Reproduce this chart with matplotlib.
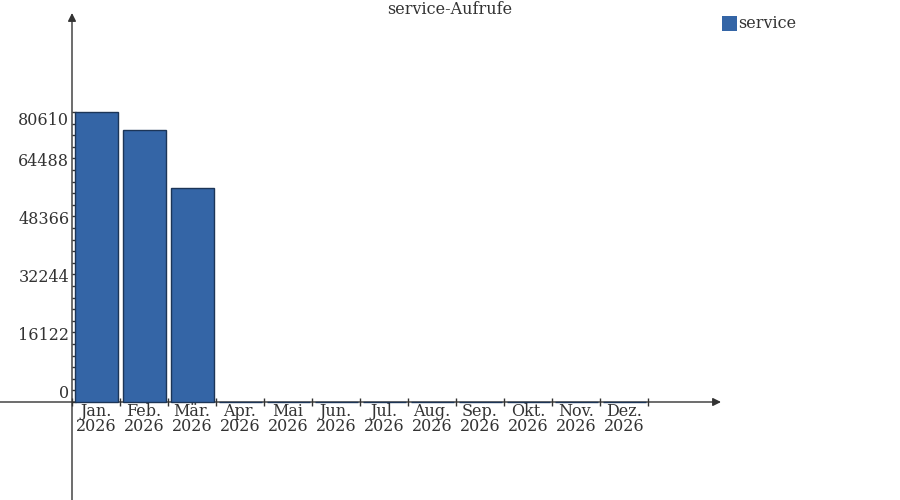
import matplotlib
matplotlib.use("Agg")
import matplotlib.pyplot as plt
import numpy as np

months = ["Jan.", "Feb.", "Mär.", "Apr.", "Mai", "Jun.", "Jul.", "Aug.", "Sep.", "Okt.", "Nov.", "Dez."]
year = "2026"
values = [80610, 75600, 59500, 0, 0, 0, 0, 0, 0, 0, 0, 0]
yticks = [0, 16122, 32244, 48366, 64488, 80610]
series_name = "service"
title = "service-Aufrufe"

bar_color = "#3465a6"
edge_color = "#1c3557"
text_color = "#333333"

plt.rcParams['font.family'] = ['DejaVu Serif']

fig = plt.figure(figsize=(9, 5), dpi=100)
ax = fig.add_axes([0, 0, 1, 1])

# pixel mapping: x px = 96 + 48*i ; y px = 402 - v*58/16122
ppu = 58 / 16122.0
def xd(px):
    return (px - 96) / 48.0
def yd(py):
    return (402 - py) / ppu

ax.set_xlim(xd(0), xd(900))
ax.set_ylim(yd(500), yd(0))

x = np.arange(len(months))
ax.bar(x, values, width=43/48, color=bar_color, edgecolor=edge_color, linewidth=1, zorder=3)

for s in ax.spines.values():
    s.set_visible(False)
ax.spines['left'].set_position(('data', xd(72)))
ax.spines['bottom'].set_position(('data', 0))

# axes with arrows
ax.annotate('', xy=(xd(72), yd(13)), xytext=(xd(72), yd(500)),
            arrowprops=dict(arrowstyle='-|>', color=text_color, lw=1, mutation_scale=12, shrinkA=0, shrinkB=0), zorder=2)
ax.annotate('', xy=(xd(721), 0), xytext=(xd(0), 0),
            arrowprops=dict(arrowstyle='-|>', color=text_color, lw=1, mutation_scale=12, shrinkA=0, shrinkB=0), zorder=2)

# y ticks
ax.set_yticks(yticks)
ax.set_yticklabels([str(v) for v in yticks])
ax.set_yticks(np.arange(0, 80610 + 1, 16122 / 5), minor=True)
ax.tick_params(axis='y', which='major', direction='in', length=3, width=1, color=text_color,
               labelsize=11.5, labelcolor=text_color, pad=2, left=True)
ax.tick_params(axis='y', which='minor', direction='in', length=3, width=1, color=text_color)

# x ticks
ax.set_xticks(x)
ax.set_xticklabels([m + "\n" + year for m in months], linespacing=0.78)
ax.tick_params(axis='x', which='major', length=0, labelsize=11.5, labelcolor=text_color, pad=1)
ax.set_xticks(np.arange(-0.5, 12, 1.0), minor=True)
ax.tick_params(axis='x', which='minor', direction='inout', length=6, width=1, color=text_color)

majors = ax.yaxis.get_major_ticks()
for t in majors:
    t.label1.set_verticalalignment('bottom')
majors[-1].label1.set_verticalalignment('top')

ax.text(0.5, 1 - 1/500, title, transform=ax.transAxes, ha='center', va='top',
        fontsize=11.5, color=text_color)

# legend
from matplotlib.patches import Rectangle
ax.add_patch(Rectangle((722/900, 1 - 31/500), 15/900, 15/500, transform=ax.transAxes,
                       facecolor=bar_color, edgecolor='none'))
ax.text(738/900, 1 - 23/500, series_name, transform=ax.transAxes, ha='left', va='center',
        fontsize=11.5, color=text_color)

fig.savefig("out.png", dpi=100)
